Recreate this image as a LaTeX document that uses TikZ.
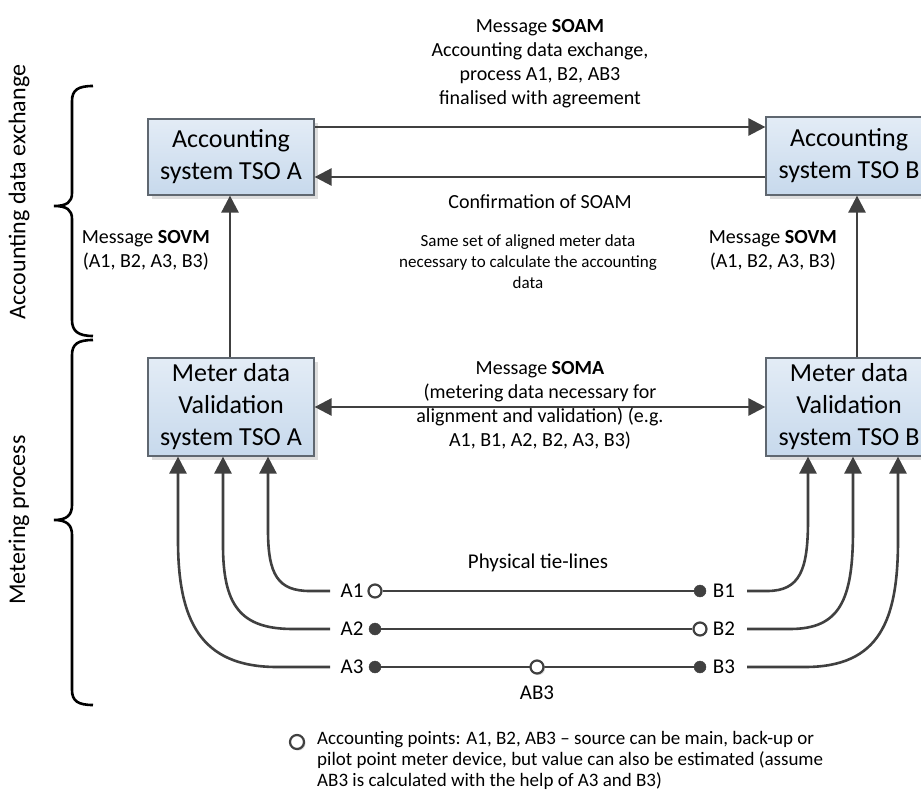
\documentclass[tikz,border=0pt]{standalone}
\usepackage{fontspec}
\setmainfont{Carlito}
\usetikzlibrary{arrows.meta,shadows}
\definecolor{ln}{HTML}{404040}
\definecolor{boxtop}{HTML}{E3ECF6}
\definecolor{boxbot}{HTML}{C7D9EC}
\definecolor{boxdraw}{HTML}{5F6770}
\begin{document}
\begin{tikzpicture}[x=1pt,y=-1pt,
  sysbox/.style={draw=boxdraw, line width=1.2pt, top color=boxtop, bottom color=boxbot,
    minimum width=166pt, inner sep=0pt, align=center,
    font=\fontsize{26}{32}\selectfont,
    drop shadow={shadow xshift=4pt, shadow yshift=-4pt, fill=black!22, opacity=0.6}},
  tip/.tip={Triangle[length=17pt,width=17pt]},
  arr/.style={draw=ln, line width=2.6pt, -tip},
  darr/.style={draw=ln, line width=2.6pt, tip-tip},
  wire/.style={draw=ln, line width=2.6pt},
  lbl/.style={font=\fontsize{20}{24}\selectfont, align=center, inner sep=0pt},
  side/.style={font=\fontsize{24}{28}\selectfont, inner sep=0pt},
  small/.style={font=\fontsize{17}{21}\selectfont, align=center, inner sep=0pt},
  tie/.style={font=\fontsize{21}{25}\selectfont, inner sep=0pt},
  opendot/.style={circle, draw=ln, line width=2.2pt, fill=white, minimum size=13pt, inner sep=0pt},
  shaded dot/.style={opendot, drop shadow={shadow xshift=1.5pt, shadow yshift=-1.5pt, fill=black!30, opacity=0.5}},
  fulldot/.style={circle, draw=ln, fill=ln, minimum size=12pt, inner sep=0pt},
  brace/.style={draw=black, line width=2.6pt}
]
\useasboundingbox (0,0) rectangle (921,794);
\clip (0,0) rectangle (921,794);

% boxes
\node[sysbox, minimum height=76pt] (accA) at (231,157) {Accounting\\system TSO A};
\node[sysbox, minimum height=78pt] (accB) at (849,156) {Accounting\\system TSO B};
\node[sysbox, minimum height=98pt] (mA) at (231,407) {Meter data\\Validation\\system TSO A};
\node[sysbox, minimum height=98pt] (mB) at (849,407) {Meter data\\Validation\\system TSO B};

% accounting arrows
\draw[arr] ([yshift=30pt]accA.east) -- ([yshift=29pt]accB.west);
\draw[arr] ([yshift=-21pt]accB.west) -- ([yshift=-20pt]accA.east);
\node[lbl] (soam) at (540,64) {Message \textbf{SOAM}\\Accounting data exchange,\\process A1, B2, AB3\\finalised with agreement};
\node[lbl] (conf) at (540,202) {Confirmation of SOAM};

% SOVM arrows
\draw[arr] ([xshift=-1pt]mA.north) -- ([xshift=-1pt]accA.south);
\draw[arr] ([xshift=8pt]mB.north) -- ([xshift=8pt]accB.south);
\node[lbl, anchor=east] (sovmA) at (210,250) {Message \textbf{SOVM}\\(A1, B2, A3, B3)};
\node[lbl, anchor=east] (sovmB) at (837,250) {Message \textbf{SOVM}\\(A1, B2, A3, B3)};
\node[small] (same) at (528,262) {Same set of aligned meter data\\necessary to calculate the accounting\\data};

% SOMA
\draw[darr] (mA.east) -- (mB.west);
\node[lbl] (soma) at (540,405) {Message \textbf{SOMA}\\(metering data necessary for\\alignment and validation) (e.g.\\A1, B1, A2, B2, A3, B3)};

% tie lines
\node[tie] (tt) at (538,563) {Physical tie-lines};
\node[opendot] (dA1) at (375,591) {};
\node[fulldot] (dB1) at (700,591) {};
\node[fulldot] (dA2) at (375,629) {};
\node[opendot] (dB2) at (700,629) {};
\node[fulldot] (dA3) at (375,667) {};
\node[fulldot] (dB3) at (700,667) {};
\draw[wire] (dA1) -- (dB1);
\draw[wire] (dA2) -- (dB2);
\draw[wire] (dA3) -- (dB3);
\node[shaded dot] (dAB3) at (537,667) {};
\node[tie] (lA1) at (352,591) {A1};
\node[tie] (lA2) at (352,629) {A2};
\node[tie] (lA3) at (352,667) {A3};
\node[tie] (lB1) at (724,591) {B1};
\node[tie] (lB2) at (724,629) {B2};
\node[tie] (lB3) at (724,667) {B3};
\node[tie] (lAB3) at (537,693) {AB3};

% curved feeds
\coordinate (eA1) at (330,591);
\coordinate (eA2) at (330,629);
\coordinate (eA3) at (330,667);
\coordinate (eB1) at (747,591);
\coordinate (eB2) at (747,629);
\coordinate (eB3) at (747,667);
\draw[arr] (eA1) -- (310,591) .. controls (278,591) and (268,575) .. (268,530) -- (mA.south -| 268,0);
\draw[arr] (eA2) -- (293,629) .. controls (240,629) and (223,605) .. (223,545) -- (mA.south -| 223,0);
\draw[arr] (eA3) -- (277,667) .. controls (200,667) and (178,620) .. (178,540) -- (mA.south -| 178,0);
\draw[arr] (eB1) -- (767,591) .. controls (800,591) and (808,570) .. (808,520) -- (mB.south -| 808,0);
\draw[arr] (eB2) -- (790,629) .. controls (840,629) and (853,600) .. (853,530) -- (mB.south -| 853,0);
\draw[arr] (eB3) -- (805,667) .. controls (880,667) and (898,620) .. (898,540) -- (mB.south -| 898,0);

% braces
\draw[brace] (93,86) .. controls (78,86) and (72,90) .. (72,101) -- (72,193) .. controls (72,202) and (67,206) .. (54,206)
  .. controls (67,206) and (72,210) .. (72,219) -- (72,320) .. controls (72,331) and (78,336) .. (93,336);
\draw[brace] (93,340) .. controls (78,340) and (72,344) .. (72,355) -- (72,505) .. controls (72,515) and (67,520) .. (54,520)
  .. controls (67,520) and (72,525) .. (72,535) -- (72,690) .. controls (72,701) and (78,705) .. (93,705);
\node[side, rotate=90] (accex) at (19,192) {Accounting data exchange};
\node[side, rotate=90] (metp) at (19,520) {Metering process};

% legend
\node[shaded dot, minimum size=14pt] (leg) at (297,742) {};
\node[font=\fontsize{19}{21}\selectfont, align=left, anchor=north west, inner sep=0pt] (legt) at (317,731)
  {Accounting points: A1, B2, AB3 -- source can be main, back-up or\\pilot point meter device, but value can also be estimated (assume\\AB3 is calculated with the help of A3 and B3)};
\end{tikzpicture}
\end{document}
